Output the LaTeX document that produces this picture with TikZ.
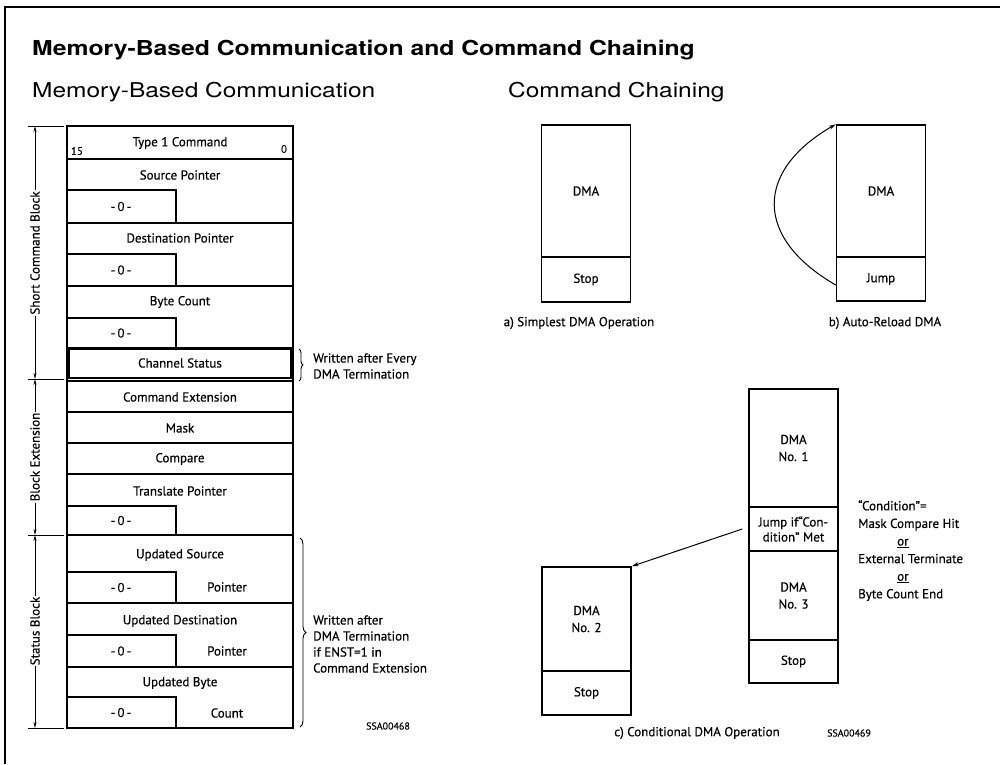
\documentclass[tikz,border=0pt]{standalone}
\usepackage{fontspec}
\setmainfont[FakeBold=0.4]{PT Sans}
\newfontfamily\headfont[FakeStretch=1.2]{TeX Gyre Heros}
\usetikzlibrary{arrows.meta,decorations.pathreplacing}

\begin{document}
\begin{tikzpicture}[x=1pt,y=-1pt,
  lbl/.style={font=\fontsize{13}{16}\selectfont, inner sep=1pt},
  cell/.style={draw, line width=1.5pt, minimum width=89pt, inner sep=0pt, align=center, font=\fontsize{13}{17}\selectfont},
  dim/.style={-{Stealth[length=6pt,width=3pt]}, line width=0.8pt},
  ext/.style={line width=0.8pt}]
\useasboundingbox (0,0) rectangle (1000,764);
% frame
\draw[line width=1.5pt] (5,764) -- (5,7) -- (1000,7);
% headings
\node[anchor=base west, inner sep=0pt, font=\headfont\bfseries\fontsize{20.6}{24}\selectfont] (title) at (32,55) {Memory-Based Communication and Command Chaining};
\node[anchor=base west, inner sep=0pt, font=\headfont\fontsize{20.4}{24}\selectfont] (memhead) at (32,97) {Memory-Based Communication};
\node[anchor=base west, inner sep=0pt, font=\headfont\fontsize{20.4}{24}\selectfont] (chainhead) at (508,97) {Command Chaining};

% memory block
\draw[line width=1.6pt] (67,126) rectangle (293,535);
\foreach \y in {159,223,286,348,381,412,443,474}
  \draw[line width=1.4pt] (67,\y) -- (293,\y);
\draw[line width=2pt] (69,349) rectangle (291,378);
\draw[line width=2.6pt] (67,535) rectangle (293,728);
\draw[line width=1.4pt] (67,603) -- (293,603) (67,667) -- (293,667);
% -0- fields
\foreach \t/\b in {190/223,254/286,318/348,506/535,572/603,635/667,697/728}{
  \draw[line width=1.4pt] (67,\t) -| (176,\b);
  \node[lbl] (zero\t) at (121,{(\t+\b)/2}) {-\,0\,-};
}
\node[lbl] (type1) at (180,143) {Type 1 Command};
\node[lbl, font=\fontsize{11}{13}\selectfont] (msb) at (77,151) {15};
\node[lbl, font=\fontsize{11}{13}\selectfont] (lsb) at (284,149) {0};
\node[lbl] (srcptr) at (180,175) {Source Pointer};
\node[lbl] (dstptr) at (180,238) {Destination Pointer};
\node[lbl] (bytecnt) at (180,302) {Byte Count};
\node[lbl] (chstat) at (180,363) {Channel Status};
\node[lbl] (cmdext) at (180,397) {Command Extension};
\node[lbl] (mask) at (180,428) {Mask};
\node[lbl] (compare) at (180,459) {Compare};
\node[lbl] (xlptr) at (180,491) {Translate Pointer};
\node[lbl] (updsrc) at (180,555) {Updated Source};
\node[lbl] (updsrcb) at (227,587) {Pointer};
\node[lbl] (upddst) at (180,621) {Updated Destination};
\node[lbl] (upddstb) at (227,651) {Pointer};
\node[lbl] (updcnt) at (180,683) {Updated Byte};
\node[lbl] (updcntb) at (227,713) {Count};

% block dimensions
\node[lbl, rotate=90] (scb) at (35,253) {Short Command Block};
\node[lbl, rotate=90] (bext) at (35,457) {Block Extension};
\node[lbl, rotate=90] (sblk) at (35,631) {Status Block};
\foreach \y in {126,379,535,728}
  \draw[ext] (28,\y) -- (64,\y);
\coordinate (d0) at (35,126);
\coordinate (d1) at (35,379);
\coordinate (d2) at (35,535);
\coordinate (d3) at (35,728);
\draw[dim] (scb.east) -- (d0);
\draw[dim] (scb.west) -- (d1);
\draw[dim] (bext.east) -- (d1);
\draw[dim] (bext.west) -- (d2);
\draw[dim] (sblk.east) -- (d2);
\draw[dim] (sblk.west) -- (d3);

% notes
\draw[decorate, decoration={brace, amplitude=4pt}, line width=0.9pt] (299,349) -- (299,381);
\node[lbl, anchor=west, align=left] (note1) at (312,366) {Written after Every\\DMA Termination};
\draw[decorate, decoration={brace, amplitude=6pt}, line width=0.9pt] (300,538) -- (300,727);
\node[lbl, anchor=west, align=left] (note2) at (312,644) {Written after\\DMA Termination\\if ENST=1 in\\Command Extension};
\node[lbl, font=\fontsize{10}{12}\selectfont] (fig1) at (388,726) {SSA00468};

% a) simplest
\node[cell, minimum height=132pt] (dmaa) at (586,191) {DMA};
\node[cell, minimum height=45pt] (stopa) at (586,279.5) {Stop};
\node[lbl] (capa) at (579,323) {a) Simplest DMA Operation};

% b) auto-reload
\node[cell, minimum height=132pt] (dmab) at (881,191) {DMA};
\node[cell, minimum height=44pt] (jumpb) at (881,279) {Jump};
\draw[line width=1pt, -{Stealth[length=7pt,width=4pt]}] ([yshift=-6pt]jumpb.west) to[out=150,in=210,looseness=1.5] (dmab.north west);
\node[lbl] (capb) at (885,323) {b) Auto-Reload DMA};

% c) conditional
\node[cell, minimum height=118pt] (dma1) at (793.5,448) {DMA\\No. 1};
\node[cell, minimum height=44pt, font=\fontsize{13}{15}\selectfont] (jumpc) at (793.5,529) {Jump if“Con-\\dition” Met};
\node[cell, minimum height=89pt] (dma3) at (793.5,595.5) {DMA\\No. 3};
\node[cell, minimum height=43pt] (stopc) at (793.5,661.5) {Stop};
\node[cell, minimum height=104pt] (dma2) at (586.5,619) {DMA\\No. 2};
\node[cell, minimum height=44pt] (stop2) at (586.5,693) {Stop};
\draw[line width=1pt, -{Stealth[length=7pt,width=4pt]}] ([xshift=-6pt]jumpc.west) -- (dma2.north east);
\node[lbl, anchor=north west, align=left, font=\fontsize{13}{17.6}\selectfont] (cond) at (857,499) {“Condition”=\\Mask Compare Hit\\\hspace*{39pt}\underline{or}\\External Terminate\\\hspace*{39pt}\underline{or}\\Byte Count End};
\node[lbl] (capc) at (697,733) {c) Conditional DMA Operation};
\node[lbl, font=\fontsize{10}{12}\selectfont] (fig2) at (849,733) {SSA00469};
\end{tikzpicture}
\end{document}
